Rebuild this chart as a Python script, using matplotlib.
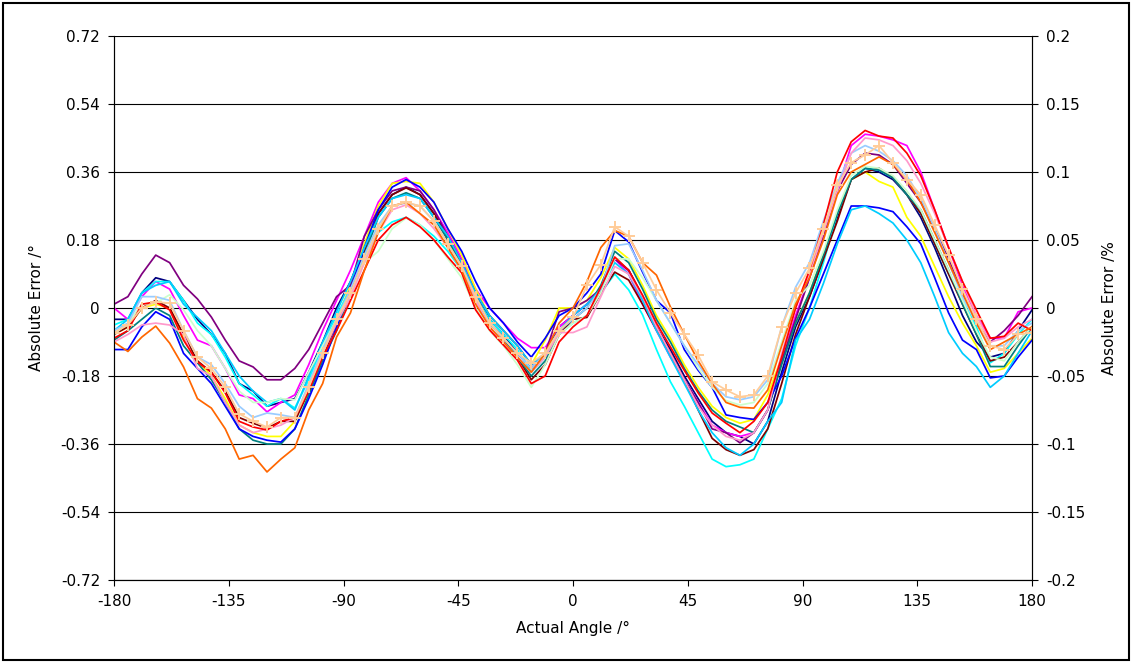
import numpy as np
import matplotlib
matplotlib.use("Agg")
import matplotlib.pyplot as plt
from matplotlib.patches import Rectangle

# 67 measurement angles, -180..180 deg
angles = np.linspace(-180, 180, 67)

navy = [-0.03, -0.03, 0.04, 0.08, 0.07, 0.02, -0.03, -0.07, -0.12, -0.20, -0.22,
        -0.26, -0.25, -0.24, -0.17, -0.09, 0.00, 0.07, 0.16, 0.25, 0.30, 0.32,
        0.30, 0.25, 0.19, 0.12, 0.04, -0.03, -0.07, -0.12, -0.16, -0.12, -0.05,
        -0.02, 0.01, 0.05, 0.13, 0.10, 0.03, -0.05, -0.11, -0.18, -0.24, -0.30,
        -0.33, -0.34, -0.36, -0.30, -0.17, -0.05, 0.03, 0.13, 0.24, 0.34, 0.37,
        0.36, 0.34, 0.30, 0.24, 0.16, 0.07, -0.02, -0.09, -0.13, -0.12, -0.06, -0.005]
magenta = [0.00, -0.03, 0.03, 0.07, 0.05, -0.02, -0.085, -0.10, -0.16, -0.23, -0.24,
           -0.275, -0.25, -0.23, -0.15, -0.06, 0.02, 0.10, 0.19, 0.28, 0.33, 0.345,
           0.31, 0.26, 0.20, 0.13, 0.05, 0.00, -0.04, -0.08, -0.105, -0.105, -0.05,
           -0.02, 0.01, 0.05, 0.13, 0.09, 0.01, -0.06, -0.13, -0.19, -0.25, -0.31,
           -0.33, -0.34, -0.33, -0.27, -0.14, -0.02, 0.08, 0.19, 0.31, 0.43, 0.46,
           0.455, 0.445, 0.43, 0.36, 0.26, 0.16, 0.06, -0.02, -0.08, -0.08, -0.01, 0.00]
yellow = [-0.07, -0.05, 0.00, 0.01, 0.00, -0.08, -0.14, -0.18, -0.24, -0.31, -0.33,
          -0.34, -0.34, -0.30, -0.21, -0.12, -0.03, 0.06, 0.17, 0.27, 0.33, 0.335,
          0.33, 0.28, 0.21, 0.14, 0.05, -0.02, -0.06, -0.10, -0.15, -0.085, 0.00,
          0.00, 0.02, 0.08, 0.16, 0.13, 0.06, -0.02, -0.08, -0.15, -0.21, -0.26,
          -0.29, -0.305, -0.295, -0.23, -0.13, -0.04, 0.04, 0.14, 0.25, 0.34, 0.36,
          0.335, 0.32, 0.24, 0.19, 0.11, 0.03, -0.04, -0.10, -0.17, -0.16, -0.12, -0.08]
cyan = [-0.045, -0.03, 0.04, 0.07, 0.07, 0.02, -0.04, -0.07, -0.13, -0.20, -0.23,
        -0.26, -0.24, -0.265, -0.19, -0.10, -0.02, 0.05, 0.13, 0.20, 0.228, 0.24,
        0.22, 0.19, 0.15, 0.10, 0.03, -0.03, -0.07, -0.11, -0.17, -0.13, -0.07,
        -0.04, -0.02, 0.04, 0.09, 0.048, -0.018, -0.11, -0.195, -0.26, -0.33, -0.40,
        -0.42, -0.415, -0.40, -0.32, -0.24, -0.10, 0.00, 0.12, 0.25, 0.34, 0.37,
        0.365, 0.345, 0.30, 0.25, 0.17, 0.09, 0.02, -0.05, -0.145, -0.12, -0.07, -0.03]
purple = [0.01, 0.03, 0.09, 0.14, 0.12, 0.06, 0.024, -0.024, -0.085, -0.14, -0.156,
          -0.19, -0.19, -0.16, -0.11, -0.04, 0.03, 0.06, 0.19, 0.26, 0.31, 0.32,
          0.31, 0.26, 0.19, 0.12, 0.04, -0.02, -0.06, -0.10, -0.15, -0.12, -0.01,
          0.00, 0.02, 0.05, 0.13, 0.10, 0.03, -0.05, -0.12, -0.19, -0.25, -0.32,
          -0.33, -0.357, -0.33, -0.27, -0.14, -0.03, 0.08, 0.19, 0.31, 0.38, 0.41,
          0.405, 0.38, 0.33, 0.28, 0.21, 0.13, 0.04, -0.04, -0.09, -0.06, -0.02, 0.03]
maroon = [-0.07, -0.05, 0.00, 0.02, 0.00, -0.07, -0.14, -0.17, -0.22, -0.29, -0.305,
          -0.318, -0.30, -0.30, -0.22, -0.13, -0.04, 0.05, 0.15, 0.25, 0.30, 0.318,
          0.30, 0.25, 0.18, 0.11, 0.03, -0.04, -0.08, -0.13, -0.19, -0.15, -0.07,
          -0.03, -0.025, 0.04, 0.095, 0.074, 0.01, -0.058, -0.12, -0.19, -0.27, -0.345,
          -0.375, -0.39, -0.375, -0.32, -0.20, -0.07, 0.03, 0.13, 0.23, 0.34, 0.36,
          0.37, 0.345, 0.30, 0.25, 0.17, 0.09, 0.01, -0.07, -0.14, -0.13, -0.09, -0.05]
teal = [-0.085, -0.06, -0.03, 0.00, -0.02, -0.10, -0.145, -0.19, -0.25, -0.32, -0.35,
        -0.36, -0.36, -0.32, -0.23, -0.14, -0.06, 0.04, 0.14, 0.24, 0.29, 0.305,
        0.29, 0.24, 0.18, 0.11, 0.03, -0.04, -0.08, -0.13, -0.18, -0.14, -0.06,
        -0.03, 0.00, 0.06, 0.15, 0.12, 0.05, -0.03, -0.09, -0.16, -0.22, -0.27,
        -0.30, -0.315, -0.33, -0.27, -0.15, -0.04, 0.04, 0.14, 0.25, 0.34, 0.37,
        0.365, 0.345, 0.30, 0.26, 0.18, 0.10, 0.01, -0.07, -0.155, -0.155, -0.10, -0.05]
blue = [-0.11, -0.11, -0.05, -0.01, -0.03, -0.12, -0.16, -0.20, -0.26, -0.32, -0.34,
        -0.35, -0.355, -0.32, -0.24, -0.15, -0.05, 0.05, 0.16, 0.26, 0.32, 0.34,
        0.32, 0.28, 0.21, 0.15, 0.07, 0.00, -0.04, -0.09, -0.13, -0.08, -0.02,
        0.00, 0.04, 0.09, 0.205, 0.175, 0.095, 0.02, -0.013, -0.11, -0.165, -0.21,
        -0.283, -0.29, -0.295, -0.25, -0.18, -0.08, 0.00, 0.09, 0.18, 0.27, 0.27,
        0.265, 0.255, 0.215, 0.17, 0.08, -0.013, -0.085, -0.11, -0.185, -0.18, -0.13, -0.085]
skyblue = [-0.06, -0.03, 0.04, 0.06, 0.07, 0.01, -0.025, -0.06, -0.12, -0.18, -0.22,
           -0.25, -0.24, -0.27, -0.18, -0.09, -0.01, 0.07, 0.16, 0.24, 0.29, 0.30,
           0.29, 0.24, 0.19, 0.12, 0.04, -0.02, -0.06, -0.10, -0.15, -0.12, -0.06,
           -0.02, 0.01, 0.05, 0.12, 0.09, 0.02, -0.06, -0.13, -0.20, -0.27, -0.33,
           -0.37, -0.39, -0.36, -0.30, -0.25, -0.085, -0.03, 0.065, 0.17, 0.26, 0.27,
           0.25, 0.225, 0.18, 0.12, 0.03, -0.065, -0.12, -0.155, -0.21, -0.18, -0.12, -0.06]
lightgreen = [-0.07, -0.04, 0.01, 0.013, 0.035, -0.005, -0.06, -0.10, -0.16, -0.22, -0.25,
              -0.25, -0.24, -0.243, -0.17, -0.10, -0.03, 0.03, 0.12, 0.15, 0.21, 0.238,
              0.22, 0.18, 0.13, 0.08, 0.00, -0.06, -0.10, -0.15, -0.21, -0.15, -0.07,
              -0.04, -0.02, 0.04, 0.13, 0.13, 0.08, 0.02, -0.04, -0.10, -0.16, -0.21,
              -0.245, -0.257, -0.25, -0.20, -0.09, 0.02, 0.06, 0.15, 0.26, 0.35, 0.375,
              0.37, 0.35, 0.31, 0.26, 0.18, 0.10, 0.02, -0.06, -0.13, -0.14, -0.09, -0.05]
paleblue = [-0.06, -0.04, 0.03, 0.03, 0.02, -0.06, -0.13, -0.15, -0.20, -0.26, -0.29,
            -0.278, -0.283, -0.29, -0.20, -0.11, -0.03, 0.05, 0.14, 0.22, 0.27, 0.278,
            0.27, 0.23, 0.17, 0.11, 0.03, -0.04, -0.08, -0.12, -0.16, -0.12, -0.06,
            -0.03, 0.00, 0.05, 0.165, 0.17, 0.10, 0.02, -0.04, -0.10, -0.15, -0.20,
            -0.235, -0.243, -0.235, -0.19, -0.05, 0.055, 0.12, 0.23, 0.33, 0.41, 0.43,
            0.415, 0.39, 0.35, 0.29, 0.21, 0.12, 0.03, -0.04, -0.10, -0.10, -0.06, -0.04]
pink = [-0.09, -0.07, -0.045, -0.04, -0.045, -0.07, -0.16, -0.18, -0.25, -0.31, -0.33,
        -0.32, -0.31, -0.29, -0.21, -0.12, -0.04, 0.03, 0.12, 0.20, 0.26, 0.273,
        0.25, 0.21, 0.16, 0.10, 0.02, -0.05, -0.09, -0.13, -0.17, -0.13, -0.065,
        -0.065, -0.05, 0.03, 0.11, 0.09, 0.03, -0.05, -0.12, -0.19, -0.26, -0.31,
        -0.34, -0.35, -0.33, -0.27, -0.12, 0.00, 0.09, 0.20, 0.31, 0.41, 0.45,
        0.445, 0.43, 0.39, 0.33, 0.25, 0.16, 0.07, -0.02, -0.09, -0.08, -0.05, -0.03]
red = [-0.08, -0.06, 0.01, 0.016, -0.005, -0.085, -0.143, -0.17, -0.225, -0.30, -0.315,
       -0.323, -0.30, -0.29, -0.22, -0.13, -0.06, 0.02, 0.10, 0.18, 0.22, 0.24,
       0.215, 0.18, 0.135, 0.093, -0.005, -0.058, -0.098, -0.138, -0.20, -0.18, -0.09,
       -0.05, -0.02, 0.055, 0.135, 0.10, 0.034, -0.04, -0.103, -0.165, -0.225, -0.278,
       -0.305, -0.33, -0.30, -0.25, -0.13, 0.00, 0.10, 0.22, 0.36, 0.44, 0.47,
       0.455, 0.45, 0.41, 0.35, 0.26, 0.16, 0.07, -0.005, -0.08, -0.075, -0.04, -0.06]
orange = [-0.09, -0.115, -0.077, -0.048, -0.093, -0.156, -0.24, -0.265, -0.32, -0.40, -0.39,
          -0.434, -0.40, -0.37, -0.27, -0.20, -0.077, -0.013, 0.10, 0.20, 0.27, 0.28,
          0.25, 0.22, 0.16, 0.10, 0.01, -0.05, -0.09, -0.13, -0.17, -0.12, -0.04,
          0.00, 0.07, 0.16, 0.205, 0.19, 0.12, 0.087, 0.003, -0.07, -0.14, -0.20,
          -0.25, -0.263, -0.265, -0.217, -0.10, 0.01, 0.08, 0.18, 0.30, 0.36, 0.38,
          0.40, 0.38, 0.34, 0.28, 0.20, 0.12, 0.04, -0.04, -0.11, -0.09, -0.07, -0.05]
tan = [-0.065, -0.045, 0.00, 0.016, 0.013, -0.06, -0.13, -0.16, -0.21, -0.28, -0.30,
       -0.315, -0.29, -0.29, -0.21, -0.12, -0.03, 0.04, 0.13, 0.21, 0.27, 0.28,
       0.27, 0.23, 0.17, 0.11, 0.03, -0.04, -0.08, -0.12, -0.145, -0.12, -0.06,
       -0.025, 0.06, 0.115, 0.215, 0.19, 0.12, 0.048, -0.013, -0.07, -0.125, -0.195,
       -0.217, -0.235, -0.23, -0.18, -0.05, 0.04, 0.105, 0.21, 0.325, 0.385, 0.405,
       0.43, 0.385, 0.34, 0.30, 0.22, 0.14, 0.05, -0.03, -0.10, -0.11, -0.07, -0.065]

series = [
    (navy, "#000080"), (magenta, "#FF00FF"), (yellow, "#FFFF00"), (cyan, "#00FFFF"),
    (purple, "#800080"), (maroon, "#800000"), (teal, "#008080"), (blue, "#0000FF"),
    (skyblue, "#00CCFF"), (lightgreen, "#CCFFCC"), (paleblue, "#99CCFF"),
    (pink, "#FF99CC"), (red, "#FF0000"), (orange, "#FF6600"),
]

y_ticks = [0.72, 0.54, 0.36, 0.18, 0, -0.18, -0.36, -0.54, -0.72]
y_labels = ["0.72", "0.54", "0.36", "0.18", "0", "-0.18", "-0.36", "-0.54", "-0.72"]
pct_ticks = [0.2, 0.15, 0.1, 0.05, 0, -0.05, -0.1, -0.15, -0.2]
pct_labels = ["0.2", "0.15", "0.1", "0.05", "0", "-0.05", "-0.1", "-0.15", "-0.2"]
x_ticks = [-180, -135, -90, -45, 0, 45, 90, 135, 180]

fig = plt.figure(figsize=(11.32, 6.62), dpi=100)
ax = fig.add_axes([0.1007, 0.1239, 0.8110, 0.8217])

for vals, col in series:
    ax.plot(angles, vals, color=col, lw=1.25, zorder=3)
ax.plot(angles, tan, color="#FFCC99", lw=1.25, marker="+", ms=9, mew=1.4, zorder=4)

ax.set_xlim(-180, 180)
ax.set_ylim(-0.72, 0.72)
ax.set_xticks(x_ticks)
ax.set_xticklabels([str(t) for t in x_ticks])
ax.set_yticks(y_ticks)
ax.set_yticklabels(y_labels)
ax.grid(axis="y", color="black", lw=0.8, zorder=1)
ax.tick_params(direction="out", length=4, labelsize=11, width=0.8, pad=6)
ax.spines["top"].set_visible(False)
for s in ("left", "right", "bottom"):
    ax.spines[s].set_color("#333333")
ax.set_xlabel("Actual Angle /°", fontsize=11, labelpad=9)
ax.set_ylabel("Absolute Error /°", fontsize=11, labelpad=12)

ax2 = ax.twinx()
ax2.set_ylim(-0.2, 0.2)
ax2.set_yticks(pct_ticks)
ax2.set_yticklabels(pct_labels)
ax2.tick_params(direction="out", length=4, labelsize=11, width=0.8, pad=6)
ax2.spines["top"].set_visible(False)
ax2.set_ylabel("Absolute Error /%", fontsize=11, labelpad=12)

fig.patches.append(Rectangle((0.003, 0.003), 0.994, 0.992, transform=fig.transFigure,
                             fill=False, edgecolor="black", lw=1.5))

fig.savefig("out.png", dpi=100, facecolor="white")
